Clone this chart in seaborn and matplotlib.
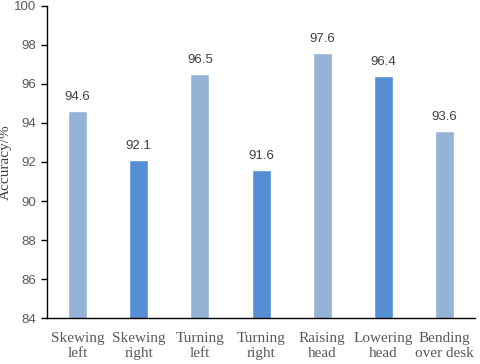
import matplotlib
matplotlib.use("Agg")
import matplotlib.pyplot as plt
import pandas as pd
import seaborn as sns

categories = ["Skewing\nleft", "Skewing\nright", "Turning\nleft", "Turning\nright",
              "Raising\nhead", "Lowering\nhead", "Bending\nover desk"]
accuracy = [94.6, 92.1, 96.5, 91.6, 97.6, 96.4, 93.6]
shade = ["light", "dark", "light", "dark", "light", "dark", "light"]
palette = {"light": "#95B3D7", "dark": "#558ED5"}

sns.set_style("white")
plt.rcParams["font.family"] = ["Liberation Sans", "DejaVu Sans"]

df = pd.DataFrame({"cat": categories, "acc": accuracy, "shade": shade})

fig = plt.figure(figsize=(4.8, 3.64), dpi=100)
ax = fig.add_axes([0.098, 0.126, 0.892, 0.858])
sns.barplot(data=df, x="cat", y="acc", hue="shade", palette=palette, saturation=1,
            width=0.31, dodge=False, legend=False, ax=ax)

ax.set_ylim(84, 100)
ax.set_yticks(range(84, 101, 2))
ax.set_xlim(-0.5, len(categories) - 0.5)

for i, v in enumerate(accuracy):
    ax.text(i, v + 0.4, f"{v}", ha="center", va="bottom", fontsize=9.5, color="#404040")

for s in ["top", "right"]:
    ax.spines[s].set_visible(False)
for s in ["left", "bottom"]:
    ax.spines[s].set_color("black")
    ax.spines[s].set_linewidth(1.0)

ax.tick_params(axis="y", direction="out", length=4, width=1, color="black",
               labelsize=9.5, labelcolor="#595959", left=True)
ax.tick_params(axis="x", length=0, pad=10)
for lab in ax.get_xticklabels():
    lab.set_fontfamily("Liberation Serif")
    lab.set_fontsize(11)
    lab.set_color("#595959")
    lab.set_linespacing(1.2)

ax.set_xlabel("")
ax.set_ylabel("Accuracy/%", fontfamily="Liberation Serif", fontsize=11, color="#404040", labelpad=2)

fig.savefig("out.png", dpi=100)
